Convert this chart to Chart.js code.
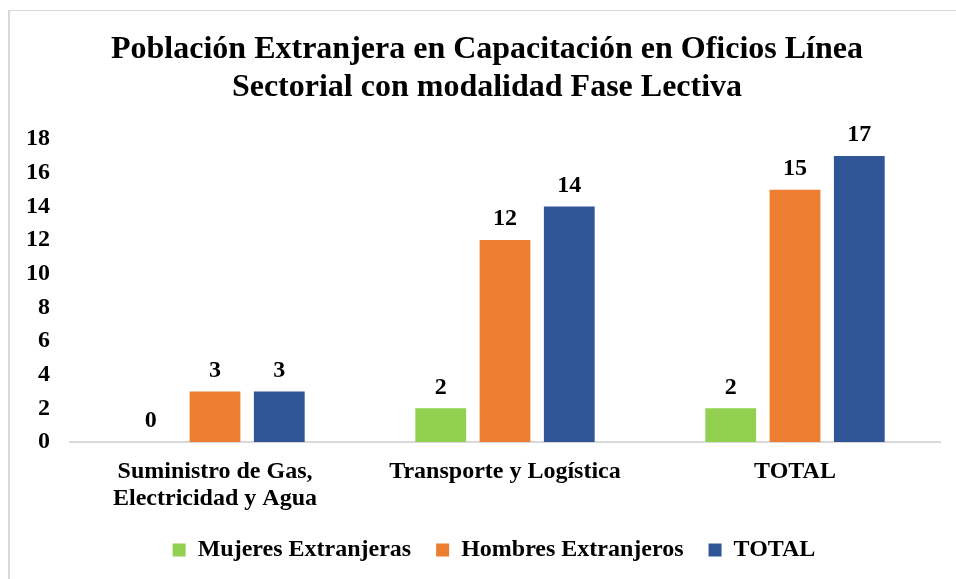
<!DOCTYPE html>
<html>
<head>
<meta charset="utf-8">
<script src="https://cdn.jsdelivr.net/npm/chart.js@4"></script>
<style>
  body { margin: 0; background: #fff; }
  .marco { position: absolute; left: 8px; top: 10px; width: 1000px; height: 700px;
           border-left: 2px solid #d9d9d9; border-top: 1px solid #d9d9d9; pointer-events: none; }
  .grafico { position: absolute; left: 0; top: 0; width: 956px; height: 579px; }
</style>
</head>
<body>
<div class="grafico"><canvas id="GraficoExtranjeros" width="956" height="579"></canvas></div>
<div class="marco"></div>
<script>
var categorias = [['Suministro de Gas,', 'Electricidad y Agua'], 'Transporte y Logística', 'TOTAL'];
var mujeres = [0, 2, 2];
var hombres = [3, 12, 15];
var totales = [3, 14, 17];
var ticksY = [0, 2, 4, 6, 8, 10, 12, 14, 16, 18];

var fuente = "'Liberation Serif', 'Times New Roman', serif";

// etiquetas encima de cada barra (no hay plugin datalabels)
var etiquetasBarras = {
    id: 'etiquetasBarras',
    afterDatasetsDraw: function (chart) {
        var ctx = chart.ctx;
        ctx.save();
        ctx.font = 'bold 24px ' + fuente;
        ctx.fillStyle = '#000';
        ctx.textAlign = 'center';
        ctx.textBaseline = 'bottom';
        chart.data.datasets.forEach(function (ds, i) {
            chart.getDatasetMeta(i).data.forEach(function (barra, j) {
                ctx.fillText(ds.data[j], barra.x, barra.y - 9);
            });
        });
        ctx.restore();
    }
};

// el titulo y la leyenda del original estan un poco corridos a la derecha
var correrBloques = {
    id: 'correrBloques',
    afterLayout: function (chart) {
        chart.titleBlock.left += 12;
        chart.titleBlock.right += 12;
        chart.legend.left += 19;
        chart.legend.right += 19;
    }
};

var ctx = document.getElementById('GraficoExtranjeros').getContext('2d');

var grafico = new Chart(ctx, {
    type: 'bar',
    data: {
        labels: categorias,
        datasets: [
            { label: 'Mujeres Extranjeras', data: mujeres, backgroundColor: '#92D050' },
            { label: 'Hombres Extranjeros', data: hombres, backgroundColor: '#ED7D31' },
            { label: 'TOTAL', data: totales, backgroundColor: '#2F5597' }
        ]
    },
    options: {
        responsive: false,
        animation: false,
        categoryPercentage: 0.665,
        barPercentage: 0.79,
        layout: { padding: { left: 10, right: 16, top: 0, bottom: 7 } },
        plugins: {
            title: {
                display: true,
                text: ['Población Extranjera en Capacitación en Oficios Línea', 'Sectorial con modalidad Fase Lectiva'],
                color: '#000',
                font: { family: fuente, size: 32, weight: 'bold', lineHeight: 1.19 },
                padding: { top: 31, bottom: 32 }
            },
            legend: {
                position: 'bottom',
                labels: {
                    color: '#000',
                    font: { family: fuente, size: 24, weight: 'bold' },
                    boxWidth: 13,
                    boxHeight: 13,
                    padding: 25
                }
            },
            tooltip: { enabled: false }
        },
        scales: {
            x: {
                grid: { display: false },
                border: { display: true, color: '#d9d9d9', width: 2 },
                ticks: {
                    color: '#000',
                    font: { family: fuente, size: 24, weight: 'bold', lineHeight: 1.12 },
                    padding: 8,
                    maxRotation: 0
                },
                afterFit: function (escala) { escala.height = 71; }
            },
            y: {
                min: 0,
                max: 18,
                grid: { display: false },
                border: { display: false },
                afterBuildTicks: function (escala) {
                    escala.ticks = ticksY.map(function (v) { return { value: v }; });
                },
                afterFit: function (escala) { escala.width = 60; },
                ticks: {
                    color: '#000',
                    font: { family: fuente, size: 24, weight: 'bold' },
                    padding: 12
                }
            }
        }
    },
    plugins: [etiquetasBarras, correrBloques]
});
</script>
</body>
</html>
